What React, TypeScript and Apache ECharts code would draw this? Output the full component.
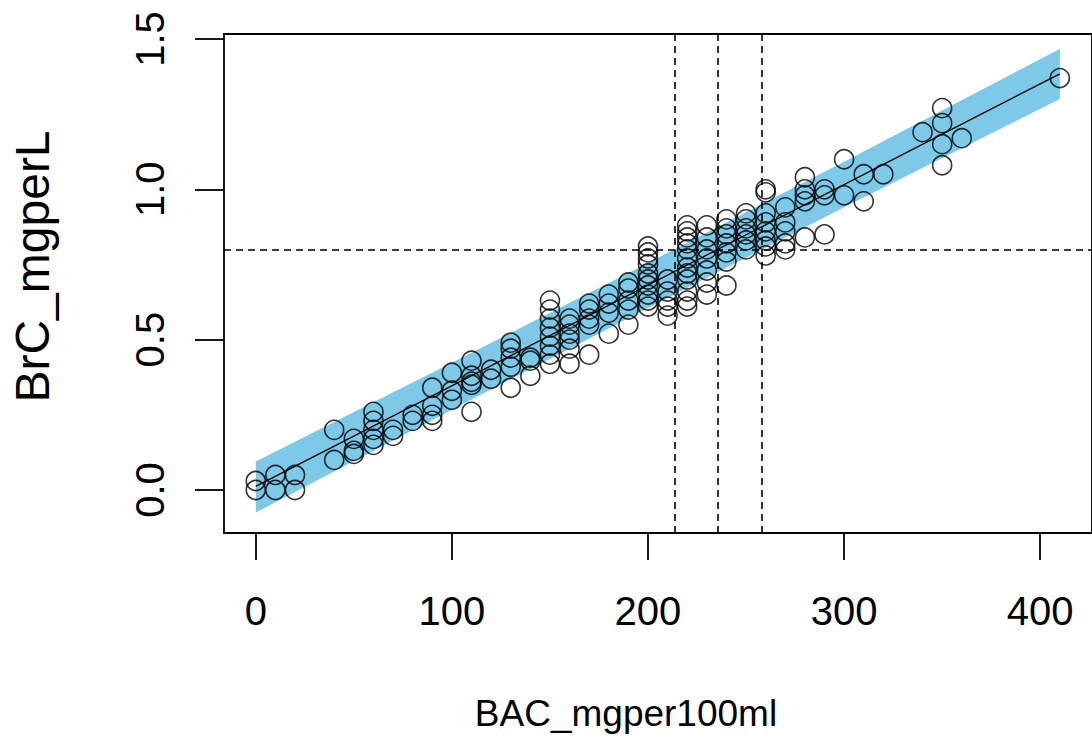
import React, { useEffect, useRef } from "react";
import * as echarts from "echarts";

// Observations: BAC (mg/100ml) and breath concentration (mg/L)
const BAC_VALUES: number[] = [
  0, 0,
  10, 10,
  20, 20,
  40, 40,
  50, 50, 50,
  60, 60, 60, 60, 60,
  70, 70,
  80, 80,
  90, 90, 90, 90,
  100, 100, 100,
  110, 110, 110, 110, 110,
  120, 120,
  130, 130, 130, 130, 130,
  140, 140, 140,
  150, 150, 150, 150, 150, 150, 150, 150,
  160, 160, 160, 160, 160, 160,
  170, 170, 170, 170, 170,
  180, 180, 180, 180,
  190, 190, 190, 190, 190,
  200, 200, 200, 200, 200, 200, 200, 200, 200, 200,
  210, 210, 210, 210, 210,
  220, 220, 220, 220, 220, 220, 220, 220, 220, 220, 220, 220,
  230, 230, 230, 230, 230, 230, 230,
  240, 240, 240, 240, 240, 240, 240,
  250, 250, 250, 250, 250, 250,
  260, 260, 260, 260, 260, 260, 260, 260,
  270, 270, 270, 270, 270,
  280, 280, 280, 280, 280,
  290, 290, 290,
  300, 300,
  310, 310,
  320,
  340,
  350, 350, 350, 350,
  360,
  410,
];
const BRC_VALUES: number[] = [
  0.03, 0.0,
  0.05, 0.0,
  0.05, 0.0,
  0.2, 0.1,
  0.17, 0.13, 0.12,
  0.26, 0.23, 0.2, 0.17, 0.15,
  0.2, 0.18,
  0.25, 0.23,
  0.34, 0.28, 0.25, 0.23,
  0.39, 0.33, 0.3,
  0.43, 0.38, 0.36, 0.35, 0.26,
  0.4, 0.37,
  0.49, 0.47, 0.44, 0.41, 0.34,
  0.44, 0.43, 0.38,
  0.63, 0.6, 0.57, 0.54, 0.51, 0.48, 0.45, 0.42,
  0.57, 0.55, 0.52, 0.5, 0.47, 0.42,
  0.62, 0.6, 0.57, 0.55, 0.45,
  0.65, 0.62, 0.59, 0.52,
  0.69, 0.67, 0.63, 0.6, 0.55,
  0.81, 0.79, 0.77, 0.75, 0.72, 0.7, 0.68, 0.65, 0.63, 0.61,
  0.7, 0.66, 0.63, 0.61, 0.58,
  0.88, 0.86, 0.84, 0.82, 0.8, 0.77, 0.74, 0.72, 0.7, 0.66, 0.63, 0.61,
  0.88, 0.84, 0.8, 0.77, 0.73, 0.69, 0.65,
  0.9, 0.87, 0.85, 0.82, 0.79, 0.76, 0.68,
  0.92, 0.9, 0.87, 0.85, 0.83, 0.8,
  1.0, 0.99, 0.92, 0.89, 0.86, 0.83, 0.81, 0.78,
  0.94, 0.89, 0.86, 0.82, 0.8,
  1.04, 1.0, 0.98, 0.96, 0.84,
  1.0, 0.98, 0.85,
  1.1, 0.98,
  1.05, 0.96,
  1.05,
  1.19,
  1.27, 1.22, 1.15, 1.08,
  1.17,
  1.37,
];

// Fitted regression line
const FIT_X: number[] = [0, 410];
const FIT_Y: number[] = [0.012, 1.384];

// Prediction band (read at a few BAC values)
const BAND_X: number[] = [0, 100, 200, 300, 410];
const BAND_LOWER: number[] = [-0.075, 0.267, 0.605, 0.94, 1.3];
const BAND_UPPER: number[] = [0.095, 0.423, 0.755, 1.092, 1.467];

// Reference lines
const VLINES: number[] = [213.4, 235.7, 258];
const HLINE = 0.795;

// Ticks
const X_TICKS: number[] = [0, 100, 200, 300, 400];
const Y_TICKS: number[] = [0, 0.5, 1, 1.5];

const FONT = "'Liberation Sans', Arial, Helvetica, sans-serif";

export default function App() {
  const ref = useRef<HTMLDivElement>(null);

  useEffect(() => {
    if (!ref.current) return;
    const chart = echarts.init(ref.current, null, { renderer: "svg" });

    const points = BAC_VALUES.map((x, i) => [x, BRC_VALUES[i]]);
    const fit = FIT_X.map((x, i) => [x, FIT_Y[i]]);

    chart.setOption({
      animation: false,
      backgroundColor: "#ffffff",
      grid: {
        left: 222,
        top: 34,
        width: 873,
        height: 499,
        show: true,
        borderColor: "#000",
        borderWidth: 1.8,
        backgroundColor: "transparent",
      },
      xAxis: {
        type: "value",
        min: -16.2,
        max: 426.4,
        name: "BAC_mgper100ml",
        nameLocation: "middle",
        nameGap: 162,
        nameTextStyle: {
          fontFamily: FONT,
          fontSize: 37,
          color: "#000",
          padding: [0, 64, 0, 0],
        },
        axisLine: { show: false, onZero: false },
        splitLine: { show: false },
        axisTick: {
          show: true,
          length: 27,
          customValues: X_TICKS,
          lineStyle: { color: "#000", width: 1.8 },
        },
        axisLabel: {
          customValues: X_TICKS,
          margin: 58,
          fontFamily: FONT,
          fontSize: 40,
          color: "#000",
        },
      },
      yAxis: {
        type: "value",
        min: -0.143,
        max: 1.5165,
        name: "BrC_mgperL",
        nameLocation: "middle",
        nameGap: 168,
        nameRotate: 90,
        nameTextStyle: {
          fontFamily: FONT,
          fontSize: 48,
          color: "#000",
          padding: [0, 0, 0, 34],
        },
        axisLine: { show: false, onZero: false },
        splitLine: { show: false },
        axisTick: {
          show: true,
          length: 29,
          customValues: Y_TICKS,
          lineStyle: { color: "#000", width: 1.8 },
        },
        axisLabel: {
          customValues: Y_TICKS,
          rotate: 90,
          margin: 54,
          fontFamily: FONT,
          fontSize: 40,
          color: "#000",
          formatter: (v: number) => v.toFixed(1),
        },
      },
      series: [
        {
          type: "custom",
          name: "band",
          data: [[BAND_X[0], BAND_LOWER[0]]],
          z: 1,
          silent: true,
          renderItem: (params: any, api: any) => {
            const pts: number[][] = [];
            for (let i = 0; i < BAND_X.length; i++) {
              pts.push(api.coord([BAND_X[i], BAND_UPPER[i]]));
            }
            for (let i = BAND_X.length - 1; i >= 0; i--) {
              pts.push(api.coord([BAND_X[i], BAND_LOWER[i]]));
            }
            return {
              type: "polygon",
              shape: { points: pts },
              style: { fill: "#7ec8e8", stroke: "none" },
            };
          },
        },
        {
          type: "line",
          name: "fit",
          data: fit,
          z: 2,
          symbol: "none",
          silent: true,
          lineStyle: { color: "#000", width: 1.3 },
        },
        {
          type: "scatter",
          name: "obs",
          data: points,
          z: 3,
          symbol: "circle",
          symbolSize: 19,
          itemStyle: {
            color: "rgba(0,0,0,0)",
            borderColor: "#000",
            borderWidth: 1.6,
          },
          markLine: {
            silent: true,
            symbol: ["none", "none"],
            label: { show: false },
            lineStyle: { color: "#000", width: 1.6, type: [7, 5] },
            data: [
              ...VLINES.map((v) => ({ xAxis: v })),
              { yAxis: HLINE },
            ],
          },
        },
      ],
    });

    return () => {
      chart.dispose();
    };
  }, []);

  return (
    <div
      ref={ref}
      style={{
        position: "absolute",
        left: 0,
        top: 0,
        width: 1092,
        height: 748,
        background: "#fff",
      }}
    />
  );
}
